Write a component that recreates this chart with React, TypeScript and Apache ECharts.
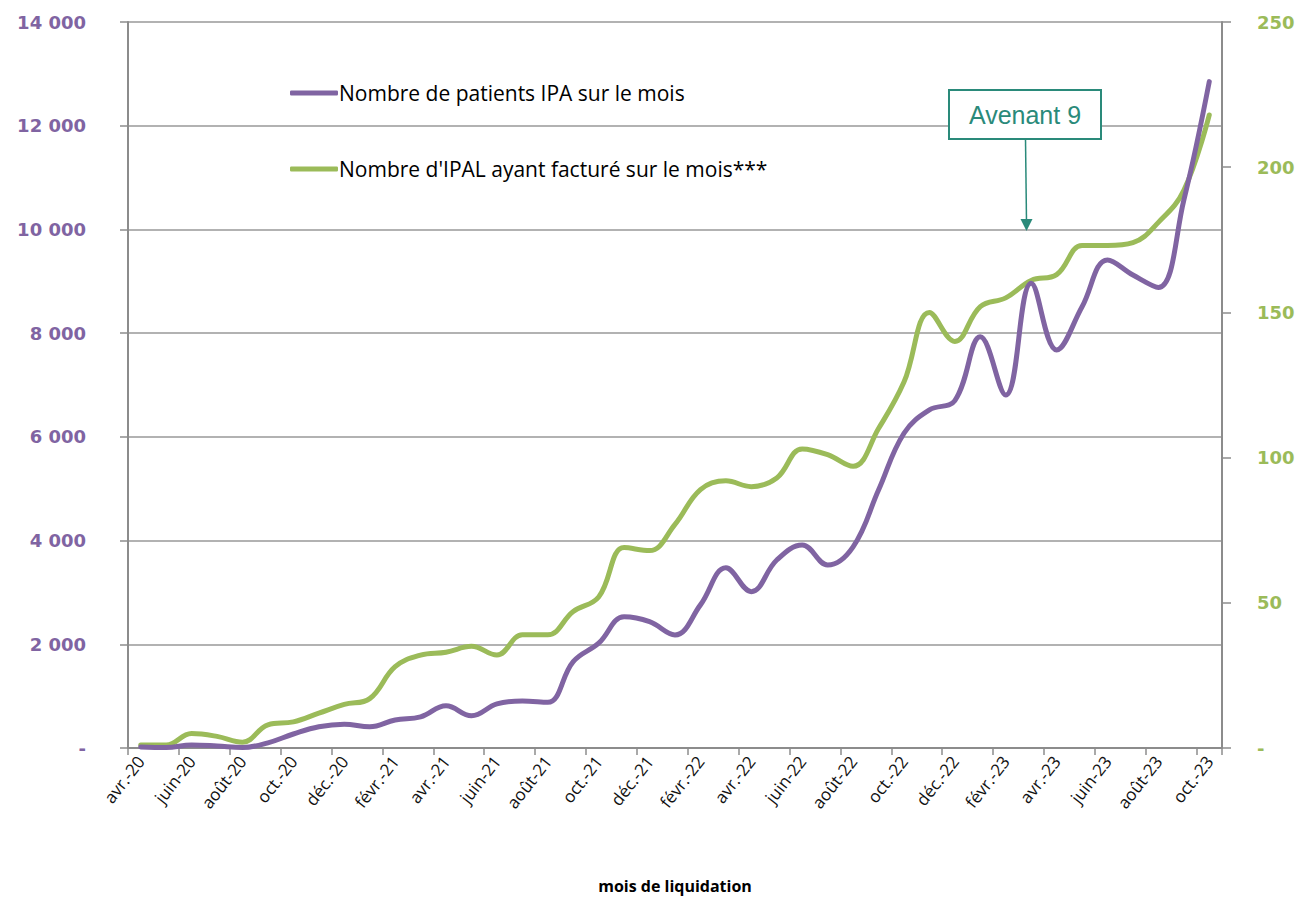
import React, { useEffect, useRef } from "react";
import * as echarts from "echarts";

const months = [
  "avr.-20", "mai-20", "juin-20", "juil.-20", "août-20", "sept.-20", "oct.-20", "nov.-20", "déc.-20",
  "janv.-21", "févr.-21", "mars-21", "avr.-21", "mai-21", "juin-21", "juil.-21", "août-21", "sept.-21", "oct.-21", "nov.-21", "déc.-21",
  "janv.-22", "févr.-22", "mars-22", "avr.-22", "mai-22", "juin-22", "juil.-22", "août-22", "sept.-22", "oct.-22", "nov.-22", "déc.-22",
  "janv.-23", "févr.-23", "mars-23", "avr.-23", "mai-23", "juin-23", "juil.-23", "août-23", "sept.-23", "oct.-23",
];

const patientsIPA = [
  20, 10, 60, 40, 10, 100, 270, 410, 460, 410, 540, 600, 815, 620, 850, 905, 880, 1665, 2020, 2530, 2435,
  2180, 2760, 3475, 3015, 3625, 3915, 3530, 3880, 4975, 6070, 6520, 6700, 7930, 6805, 8960, 7675, 8510,
  9410, 9120, 8880, 10565, 12850,
];

const ipalFacture = [
  1, 1, 5, 4, 2, 8, 9, 12, 15, 17, 28, 32, 33, 35, 32, 39, 39, 47, 52, 69, 68, 77, 89, 92, 90, 93, 103,
  101, 97, 110, 126, 150, 140, 152, 155, 161, 163, 173, 173, 174, 181, 192, 218,
];

const seriesNames = ["Nombre de patients IPA sur le mois", "Nombre d'IPAL ayant facturé sur le mois***"];
const leftTicks = { min: 0, max: 14000, interval: 2000 };
const rightTicks = { min: 0, max: 250, interval: 50 };
const annotationText = "Avenant 9";
const xAxisTitle = "mois de liquidation";

const PURPLE = "#8064A2";
const GREEN = "#9BBB59";
const GREY = "#8C8C8C";
const TEAL = "#2A8A7A";

const fmtThousands = (v: number) =>
  v === 0 ? "-" : String(v).replace(/\B(?=(\d{3})+(?!\d))/g, " ");

export default function App() {
  const ref = useRef<HTMLDivElement>(null);
  useEffect(() => {
    if (!ref.current) return;
    const chart = echarts.init(ref.current, undefined, { renderer: "svg" });
    chart.setOption({
      animation: false,
      backgroundColor: "#ffffff",
      grid: { left: 128, right: 80, top: 22, bottom: 151, containLabel: false, outerBoundsMode: "none" },
      legend: {
        orient: "vertical",
        left: 285,
        top: 76,
        itemGap: 52,
        itemWidth: 48,
        itemHeight: 5,
        icon: "roundRect",
        textStyle: { fontFamily: "Open Sans", fontSize: 21, color: "#000", lineHeight: 24, padding: [0, 0, 0, -4] },
        data: seriesNames,
      },
      xAxis: {
        type: "category",
        data: months,
        boundaryGap: true,
        name: xAxisTitle,
        nameLocation: "middle",
        nameGap: 130,
        nameTextStyle: { fontFamily: "Open Sans", fontWeight: "bold", fontSize: 16, color: "#000" },
        axisLine: { show: true, lineStyle: { color: GREY, width: 2 } },
        axisTick: { show: true, interval: 1, length: 7, lineStyle: { color: GREY, width: 1.5 } },
        axisLabel: {
          interval: 1,
          rotate: 52,
          margin: 10,
          fontFamily: "Open Sans",
          fontSize: 17,
          color: "#111",
        },
      },
      yAxis: [
        {
          type: "value",
          ...leftTicks,
          position: "left",
          axisLine: { show: true, lineStyle: { color: GREY, width: 2 } },
          axisTick: { show: true, length: 8, lineStyle: { color: GREY, width: 1.5 } },
          splitLine: { show: true, lineStyle: { color: "#999", width: 1.5 } },
          axisLabel: {
            margin: 42,
            formatter: fmtThousands,
            fontFamily: "DejaVu Sans",
            fontWeight: "bold",
            fontSize: 18,
            color: PURPLE,
          },
        },
        {
          type: "value",
          ...rightTicks,
          position: "right",
          axisLine: { show: true, lineStyle: { color: GREY, width: 2 } },
          axisTick: { show: true, length: 9, lineStyle: { color: GREY, width: 1.5 } },
          splitLine: { show: false },
          axisLabel: {
            margin: 35,
            formatter: (v: number) => (v === 0 ? "-" : String(v)),
            fontFamily: "DejaVu Sans",
            fontWeight: "bold",
            fontSize: 18,
            color: GREEN,
          },
        },
      ],
      series: [
        {
          name: seriesNames[0],
          type: "line",
          yAxisIndex: 0,
          data: patientsIPA,
          smooth: 0.4,
          showSymbol: false,
          symbol: "none",
          lineStyle: { color: PURPLE, width: 5, cap: "round" },
          itemStyle: { color: PURPLE },
          z: 3,
        },
        {
          name: seriesNames[1],
          type: "line",
          yAxisIndex: 1,
          data: ipalFacture,
          smooth: 0.4,
          showSymbol: false,
          symbol: "none",
          lineStyle: { color: GREEN, width: 5, cap: "round" },
          itemStyle: { color: GREEN },
          z: 2,
        },
      ],
      graphic: [
        {
          type: "rect",
          shape: { x: 949, y: 90, width: 152, height: 49 },
          style: { fill: "#fff", stroke: TEAL, lineWidth: 2 },
          z: 10,
        },
        {
          type: "text",
          x: 1025,
          y: 115,
          style: {
            text: annotationText,
            fill: TEAL,
            font: "25px 'Liberation Sans', Arial, sans-serif",
            align: "center",
            verticalAlign: "middle",
          },
          z: 11,
        },
        {
          type: "line",
          shape: { x1: 1025.5, y1: 139, x2: 1026.5, y2: 222 },
          style: { stroke: TEAL, lineWidth: 1.5 },
          z: 10,
        },
        {
          type: "polygon",
          shape: { points: [[1020.5, 219], [1032.5, 219], [1026.5, 231]] },
          style: { fill: TEAL },
          z: 10,
        },
      ],
    });
    return () => chart.dispose();
  }, []);
  return (
    <div
      ref={ref}
      style={{ position: "absolute", left: 0, top: 0, width: 1302, height: 899 }}
    />
  );
}
